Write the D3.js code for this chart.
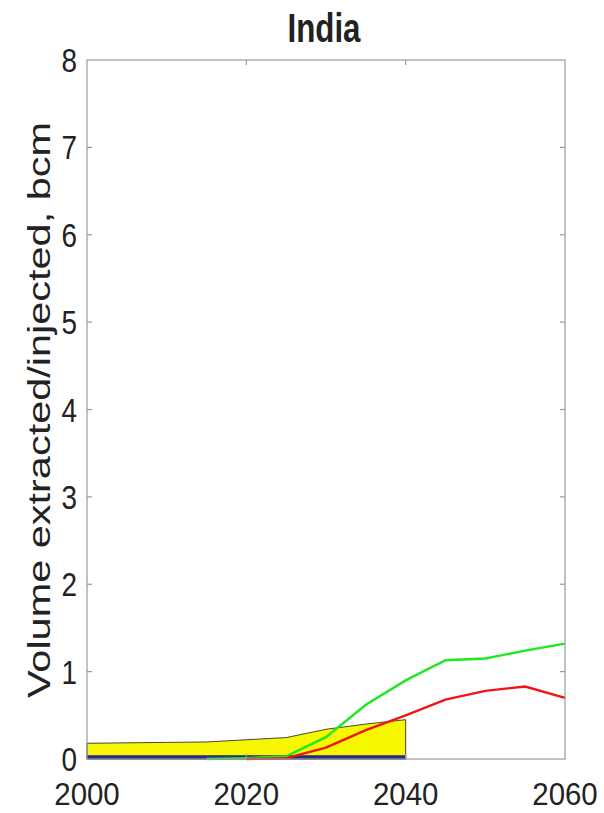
<!DOCTYPE html>
<html>
<head>
<meta charset="utf-8">
<script src="https://cdn.jsdelivr.net/npm/d3@7"></script>
<style>
  html, body { margin: 0; padding: 0; background: #fff; }
  svg { display: block; }
  text { font-family: "Liberation Sans", Arial, Helvetica, sans-serif; fill: #222; }
</style>
</head>
<body>
<svg id="chart" width="604" height="813"></svg>
<script>
// India: volumes extracted / injected (bcm)
const title = "India";
const yLabel = "Volume extracted/injected, bcm";

const xTicks = [2000, 2020, 2040, 2060];
const yTicks = [0, 1, 2, 3, 4, 5, 6, 7, 8];

// total storage (yellow band) and base layer (blue band)
const storeYears = [2000, 2005, 2010, 2015, 2020, 2025, 2030, 2035, 2040];
const storeTotal = [0.18, 0.185, 0.19, 0.195, 0.22, 0.245, 0.34, 0.40, 0.45];
const storeBase  = [0.04, 0.04, 0.04, 0.04, 0.04, 0.04, 0.04, 0.04, 0.04];

// injected (green) and extracted (red)
const greenYears = [2015, 2020, 2025, 2030, 2035, 2040, 2045, 2050, 2055, 2060];
const greenVals  = [0.0, 0.01, 0.03, 0.25, 0.62, 0.90, 1.13, 1.15, 1.24, 1.32];
const redYears   = [2020, 2025, 2030, 2035, 2040, 2045, 2050, 2055, 2060];
const redVals    = [0.0, 0.01, 0.13, 0.33, 0.50, 0.68, 0.78, 0.83, 0.70];

const svg = d3.select("#chart");
const L = 87, R = 565, T = 60, B = 759;

const x = d3.scaleLinear().domain([2000, 2060]).range([L, R]);
const y = d3.scaleLinear().domain([0, 8]).range([B, T]);

// plot background
svg.append("rect").attr("x", L).attr("y", T).attr("width", R - L).attr("height", B - T)
  .attr("fill", "#fff");

// yellow band
const storeRows = storeYears.map((yr, i) => ({ yr, top: storeTotal[i], base: storeBase[i] }));
svg.append("path")
  .datum(storeRows)
  .attr("d", d3.area().x(d => x(d.yr)).y0(y(0)).y1(d => y(d.top)))
  .attr("fill", "#f7f700")
  .attr("stroke", "#333")
  .attr("stroke-width", 0.9);

// blue band
svg.append("path")
  .datum(storeRows)
  .attr("d", d3.area().x(d => x(d.yr)).y0(y(0)).y1(d => y(d.base)))
  .attr("fill", "#2a2a8c")
  .attr("stroke", "#2a2a8c")
  .attr("stroke-width", 0.6);

const line = d3.line().x(d => x(d[0])).y(d => y(d[1]));

svg.append("path")
  .datum(greenYears.map((yr, i) => [yr, greenVals[i]]))
  .attr("d", line)
  .attr("fill", "none")
  .attr("stroke", "#1ee81e")
  .attr("stroke-width", 2.4);

svg.append("path")
  .datum(redYears.map((yr, i) => [yr, redVals[i]]))
  .attr("d", line)
  .attr("fill", "none")
  .attr("stroke", "#f01414")
  .attr("stroke-width", 2.4);

// axes box and inward ticks
const axisColor = "#9a9a9a";
const tickLen = 5;
const axes = svg.append("g").attr("stroke", axisColor).attr("stroke-width", 1.2).attr("fill", "none");
axes.append("rect").attr("x", L).attr("y", T).attr("width", R - L).attr("height", B - T);

yTicks.slice(1, -1).forEach(v => {
  axes.append("line").attr("x1", L).attr("x2", L + tickLen).attr("y1", y(v)).attr("y2", y(v));
  axes.append("line").attr("x1", R).attr("x2", R - tickLen).attr("y1", y(v)).attr("y2", y(v));
});
xTicks.slice(1, -1).forEach(v => {
  axes.append("line").attr("x1", x(v)).attr("x2", x(v)).attr("y1", T).attr("y2", T + tickLen);
  axes.append("line").attr("x1", x(v)).attr("x2", x(v)).attr("y1", B).attr("y2", B - tickLen);
});

// y tick labels
yTicks.forEach(v => {
  svg.append("text")
    .attr("x", 0).attr("y", 0)
    .attr("transform", `translate(${L - 10},${y(v) + 12}) scale(0.82,1)`)
    .attr("text-anchor", "end")
    .attr("font-size", 34)
    .text(v);
});

// x tick labels
xTicks.forEach(v => {
  svg.append("text")
    .attr("x", 0).attr("y", 0)
    .attr("transform", `translate(${x(v)},${805}) scale(0.92,1)`)
    .attr("text-anchor", "middle")
    .attr("font-size", 32)
    .text(v);
});

// y axis label
svg.append("text")
  .attr("transform", `translate(50,${(698 + 122) / 2}) rotate(-90)`)
  .attr("text-anchor", "middle")
  .attr("font-size", 32)
  .attr("textLength", 576)
  .attr("lengthAdjust", "spacingAndGlyphs")
  .text(yLabel);

// title
svg.append("text")
  .attr("x", 324).attr("y", 42)
  .attr("text-anchor", "middle")
  .attr("font-size", 41)
  .attr("font-weight", "bold")
  .attr("textLength", 73)
  .attr("lengthAdjust", "spacingAndGlyphs")
  .attr("fill", "#111")
  .text(title);
</script>
</body>
</html>
